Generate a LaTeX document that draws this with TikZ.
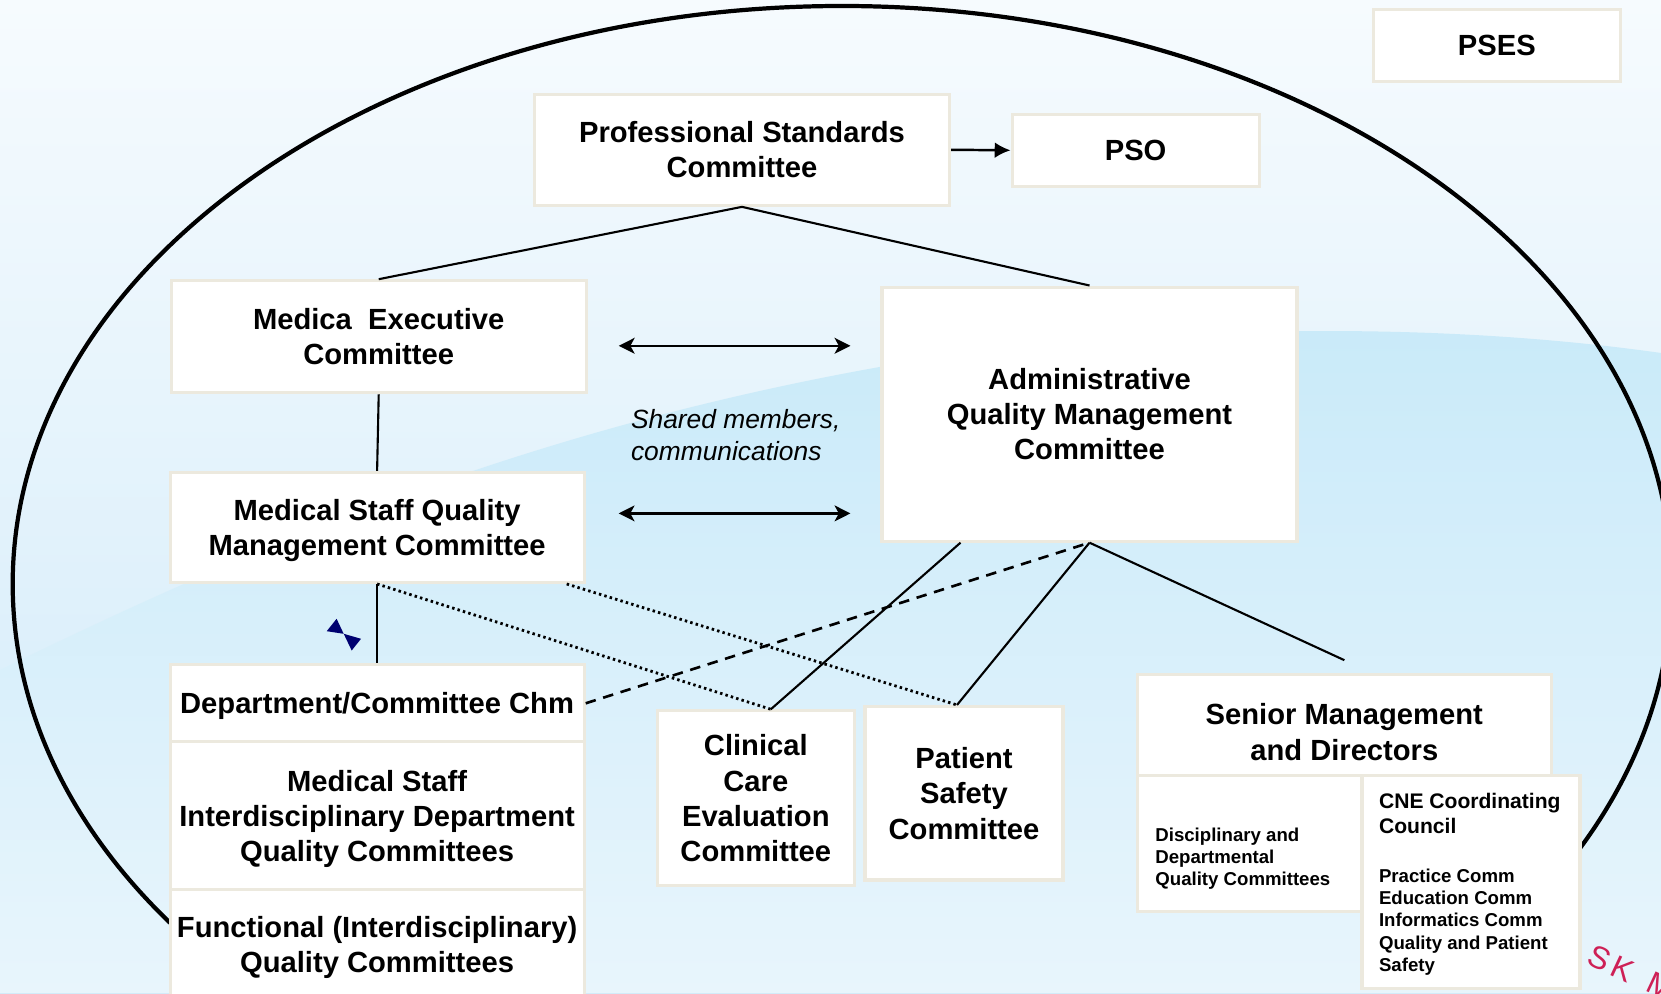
\documentclass[tikz,border=0pt]{standalone}
\usepackage{fontspec}
\setmainfont{Liberation Sans}
\usepackage{tikz}
\usetikzlibrary{arrows.meta, calc}
\definecolor{boxedge}{RGB}{236, 233, 222}
\definecolor{skytop}{RGB}{246, 251, 254}
\definecolor{skymid}{RGB}{222, 241, 251}
\definecolor{skylow}{RGB}{208, 234, 249}
\definecolor{wavetop}{RGB}{201, 234, 249}
\definecolor{wavebot}{RGB}{232, 245, 252}
\definecolor{bownavy}{RGB}{0, 0, 112}
\definecolor{stampred}{RGB}{206, 32, 86}
\newcommand{\orgfont}{\fontsize{8.3}{10}\selectfont\bfseries}
\newcommand{\minorfont}{\fontsize{5.3}{6.35}\selectfont\bfseries}
\newcommand{\cnefont}{\fontsize{6}{7.2}\selectfont\bfseries}
\newcommand{\notefont}{\fontsize{7.5}{9}\selectfont\itshape}
\tikzset{
  orgbox/.style 2 args={
    rectangle, draw=boxedge, line width=0.9pt, fill=white,
    minimum width=#1, minimum height=#2, inner sep=1pt,
    align=center, font=\orgfont, text=black, text depth=0pt
  },
}

\begin{document}
\begin{tikzpicture}[
  x=1cm, y=1cm,
  link/.style={line width=0.6pt, color=black},
  arr/.style={-{Latex[length=4.5pt, width=4.5pt]}, line width=0.7pt, color=black},
  dblarr/.style={{Stealth[length=4.5pt, width=4.5pt, inset=1.2pt]}-{Stealth[length=4.5pt, width=4.5pt, inset=1.2pt]}, line width=0.7pt, color=black},
  dotlink/.style={line width=0.8pt, dash pattern=on 0.7pt off 0.9pt, color=black},
  dashlink/.style={line width=0.75pt, dash pattern=on 3pt off 2.2pt, color=black},
  rim/.style={line width=1.2pt, color=black}
]
\useasboundingbox (0,0) rectangle (16.61,9.93);
\clip (0,0) rectangle (16.61,9.93);

% ── Background ─────────────────────────────────────────────
\shade[top color=skytop, middle color=skymid, bottom color=skylow] (0,0) rectangle (16.61,9.93);
\shade[top color=wavetop, bottom color=wavebot]
  (0,3.23) .. controls (3,4.7) and (6,5.9) .. (10,6.45)
  .. controls (13,6.75) and (15.2,6.6) .. (16.61,6.4)
  -- (16.61,0) -- (0,0) -- cycle;

% ── Outer ring ─────────────────────────────────────────────
\begin{scope}
  \clip (0,0.07) rectangle (16.61,9.93);
  \draw[rim] (8.421,4.090) ellipse [x radius=8.294, y radius=5.780];
\end{scope}

% ── Top level ──────────────────────────────────────────────
\node[orgbox={2.47cm}{0.72cm}] (pses) at (14.968, 9.476) {PSES};
\node[orgbox={4.15cm}{1.11cm}] (psc)  at (7.420, 8.432)  {Professional Standards\\Committee};
\node[orgbox={2.47cm}{0.72cm}] (pso)  at (11.356, 8.427) {PSO};

% ── Medical staff side ─────────────────────────────────────
\node[orgbox={4.15cm}{1.12cm}] (mec)   at (3.787, 6.562) {Medica\ \ Executive\\Committee};
\node[orgbox={4.14cm}{1.10cm}] (msqmc) at (3.771, 4.656) {Medical Staff Quality\\Management Committee};
\node[orgbox={4.14cm}{0.78cm}] (chm)   at (3.771, 2.897) {Department/Committee Chm};
\node[orgbox={4.14cm}{1.49cm}] (msidq) at (3.771, 1.769) {Medical Staff\\Interdisciplinary Department\\Quality Committees};
\node[orgbox={4.14cm}{1.09cm}] (fqc)   at (3.771, 0.487) {Functional (Interdisciplinary)\\Quality Committees};

% ── Administrative side ────────────────────────────────────
\node[orgbox={4.15cm}{2.54cm}] (aqmc)  at (10.895, 5.789) {Administrative\\Quality Management\\Committee};
\node[orgbox={1.97cm}{1.745cm}] (ccec) at (7.558, 1.949)  {Clinical\\Care\\Evaluation\\Committee};
\node[orgbox={1.98cm}{1.735cm}] (psafe) at (9.640, 1.997) {Patient\\Safety\\Committee};

% ── Senior management ──────────────────────────────────────
\node[orgbox={4.14cm}{1.015cm}] (senior) at (13.443, 2.675) {};
\node[align=center, font=\orgfont, inner sep=0pt] (seniortext) at ($(senior.center)+(0,-0.065)$)
  {Senior Management\\and Directors};
\node[orgbox={2.255cm}{1.365cm}] (ddqc) at (12.500, 1.494) {};
\node[anchor=west, align=left, font=\minorfont, inner sep=0pt] (ddqctext) at ($(ddqc.west)+(0.19,-0.15)$)
  {Disciplinary and\\Departmental\\Quality Committees};
\node[orgbox={2.18cm}{2.13cm}] (cne) at (14.709, 1.112) {};
\node[anchor=north west, align=flush left, text width=1.9cm, inner sep=0pt] (cnetext) at ($(cne.north west)+(0.18,-0.185)$)
  {\cnefont CNE Coordinating\\Council\par\vspace{7.5pt}
   \minorfont Practice Comm\\Education Comm\\Informatics Comm\\Quality and Patient\\Safety\par};

% ── Note and marks ─────────────────────────────────────────
\node[anchor=west, align=left, font=\notefont, inner sep=0pt] (shared) at (6.303, 5.582)
  {Shared members,\\communications};
\fill[bownavy] (3.267,3.618) -- (3.366,3.742) -- (3.437,3.592) -- cycle;
\fill[bownavy] (3.437,3.592) -- (3.610,3.542) -- (3.517,3.425) -- cycle;
\node[rotate=-25, anchor=west, inner sep=0pt, text=stampred, font=\fontsize{9}{10}\selectfont] (stamp) at (15.89, 0.40) {S\kern1.5pt K\ \ M};

% ── Arrows: top level ──────────────────────────────────────
\draw[arr]  (psc.east)  -- (pso.west);
\draw[link] (psc.south) -- (mec.north);
\draw[link] (psc.south) -- (aqmc.north);

% ── Arrows: shared members ─────────────────────────────────
\draw[dblarr] ($(mec.east)+(0.31,-0.09)$) -- ($(mec.east -| aqmc.west)+(-0.30,-0.09)$);
\draw[dblarr] ($(msqmc.east)+(0.33,0.14)$) -- ($(msqmc.east -| aqmc.west)+(-0.30,0.14)$);

% ── Arrows: medical staff spine ────────────────────────────
\draw[link] (mec.south)   -- (msqmc.north);
\draw[link] (msqmc.south) -- (chm.north);
\draw[dotlink] (msqmc.south) -- ([xshift=1.5mm]ccec.north);
\draw[dotlink] ([xshift=-1.9mm]msqmc.south east) -- ([xshift=-0.7mm]psafe.north);

% ── Arrows: administrative branches ────────────────────────
\draw[link] ([xshift=-12.9mm]aqmc.south) -- ([xshift=1.5mm]ccec.north);
\draw[link] (aqmc.south) -- ([xshift=-0.7mm]psafe.north);
\draw[link] (aqmc.south) -- ([yshift=1.3mm]senior.north);
\draw[dashlink] (chm.east) -- (aqmc.south);

\end{tikzpicture}
\end{document}
